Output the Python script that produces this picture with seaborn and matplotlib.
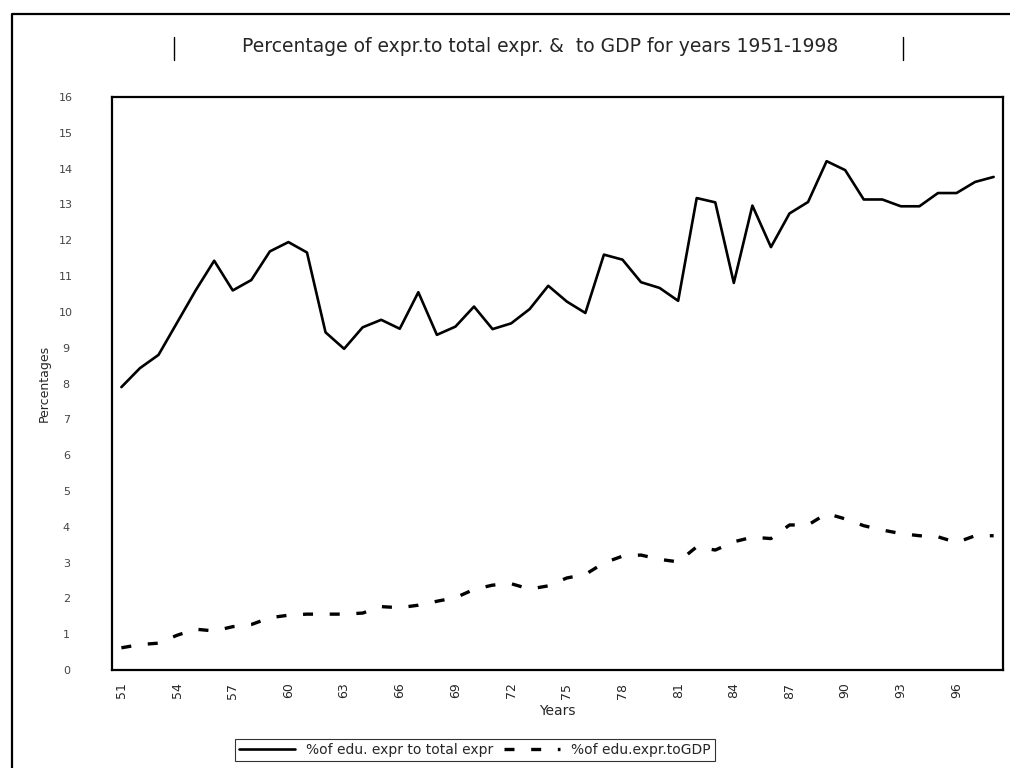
import matplotlib
matplotlib.use("Agg")
import matplotlib.pyplot as plt
from matplotlib.lines import Line2D
import seaborn as sns
import pandas as pd

# years 1951-1998, shown as two-digit labels
years = list(range(51, 99))

# % of education expenditure to total expenditure
edu_to_total = [
    7.90, 8.43, 8.80, 9.70, 10.60, 11.43, 10.60, 10.89, 11.69, 11.95,
    11.66, 9.43, 8.97, 9.57, 9.78, 9.53, 10.55, 9.36, 9.59, 10.15,
    9.52, 9.68, 10.08, 10.73, 10.29, 9.97, 11.60, 11.46, 10.83, 10.67,
    10.31, 13.18, 13.06, 10.81, 12.97, 11.81, 12.75, 13.07, 14.21, 13.96,
    13.14, 13.14, 12.95, 12.95, 13.32, 13.32, 13.63, 13.77,
]

# % of education expenditure to GDP
edu_to_gdp = [
    0.62, 0.71, 0.75, 0.97, 1.14, 1.09, 1.21, 1.27, 1.46, 1.53,
    1.56, 1.56, 1.56, 1.59, 1.77, 1.74, 1.81, 1.92, 2.02, 2.25,
    2.37, 2.41, 2.26, 2.35, 2.57, 2.67, 2.99, 3.18, 3.21, 3.09,
    3.02, 3.44, 3.35, 3.58, 3.71, 3.67, 4.05, 4.05, 4.37, 4.22,
    4.03, 3.91, 3.81, 3.75, 3.72, 3.56, 3.75, 3.75,
]

label_total = "%of edu. expr to total expr"
label_gdp = "%of edu.expr.toGDP"
title = "Percentage of expr.to total expr. &  to GDP for years 1951-1998"

df = pd.DataFrame({"Year": years, "total": edu_to_total, "gdp": edu_to_gdp})

sns.set_style("white")
plt.rcParams["font.family"] = ["DejaVu Sans"]

fig = plt.figure(figsize=(10.10, 7.68), dpi=100)
ax = fig.add_axes([0.111, 0.1276, 0.882, 0.746])

sns.lineplot(data=df, x="Year", y="total", ax=ax, color="black",
             linewidth=1.9, label=label_total)
sns.lineplot(data=df, x="Year", y="gdp", ax=ax, color="black",
             linewidth=2.4, label=label_gdp)
ax.lines[1].set_dashes((3, 5))

ax.set_xlim(50.5, 98.5)
ax.set_ylim(0, 16)
ax.set_xticks(list(range(51, 97, 3)))
ax.set_xticklabels([str(y) for y in range(51, 97, 3)], rotation=90, fontsize=9)
ax.set_yticks(list(range(0, 17)))
ax.set_yticklabels([str(v) for v in range(0, 17)], fontsize=8, color="#444444")
ax.tick_params(axis="both", length=3)
ax.tick_params(axis="y", pad=30)
ax.tick_params(axis="x", pad=6)
for t in ax.get_yticklabels():
    t.set_horizontalalignment("center")

for s in ax.spines.values():
    s.set_color("black")
    s.set_linewidth(1.6)

ax.set_xlabel("Years", fontsize=10, labelpad=4)
ax.set_ylabel("Percentages", fontsize=9, labelpad=6)

leg = ax.legend(loc="center", bbox_to_anchor=(475 / 1010, 18 / 768),
                bbox_transform=fig.transFigure, ncol=2, frameon=True,
                fancybox=False, edgecolor="black", fontsize=10,
                handlelength=4.0, columnspacing=0.8, borderpad=0.3)
leg.get_frame().set_linewidth(0.8)

fig.text(540 / 1010, 1 - 47 / 768, title, ha="center", va="center", fontsize=13.5)
for bx in (174, 903):
    fig.add_artist(Line2D([bx / 1010, bx / 1010], [1 - 37 / 768, 1 - 60 / 768],
                          transform=fig.transFigure, color="black", lw=1.0))

# outer chart frame
fig.add_artist(Line2D([12 / 1010, 12 / 1010, 1.0], [0.0, 1 - 14 / 768, 1 - 14 / 768],
                      transform=fig.transFigure, color="black", lw=1.6))

fig.savefig("out.png", dpi=100)
